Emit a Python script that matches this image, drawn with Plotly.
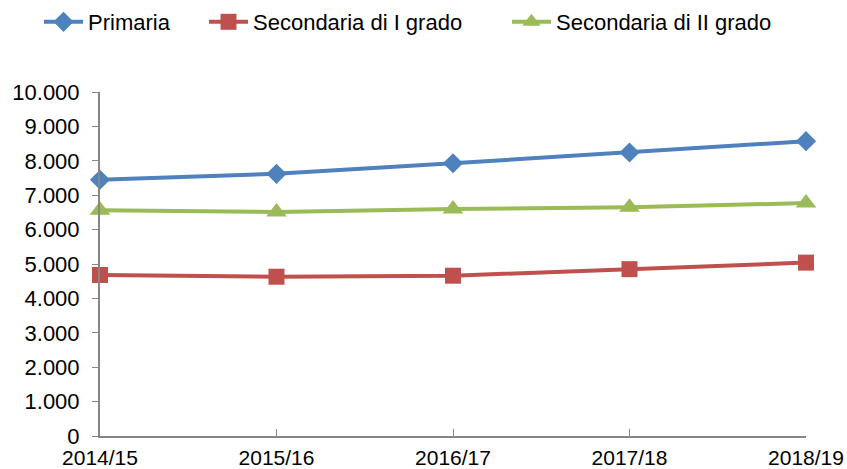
import plotly.graph_objects as go

categories = ["2014/15", "2015/16", "2016/17", "2017/18", "2018/19"]
primaria = [7450, 7620, 7930, 8240, 8570]
sec_1 = [4680, 4630, 4660, 4850, 5040]
sec_2 = [6560, 6510, 6600, 6650, 6770]
y_ticks = list(range(0, 10001, 1000))

series = [
    ("Primaria", primaria, "#4F81BD", "diamond", 15.5, "legend", 67),
    ("Secondaria di I grado", sec_1, "#C0504D", "square", 16, "legend2", 232),
    ("Secondaria di II grado", sec_2, "#9BBB59", "triangle-up", 18, "legend3", 535),
]

L, R, T, B = 100, 41, 92, 33
W, H = 847, 469
pw = W - L - R
ph = H - T - B

xs = list(range(len(categories)))
fig = go.Figure()
legends = {}
for name, vals, col, sym, size, lg, cx in series:
    fig.add_trace(go.Scatter(
        x=xs, y=vals, name=name, mode="lines+markers",
        line=dict(color=col, width=4),
        marker=dict(symbol=sym, size=size, color=col),
        cliponaxis=False, legend=lg,
    ))
    legends[lg] = dict(
        x=(cx - 15 - 13 - L) / pw, xanchor="left",
        y=1 + (T - 22) / ph, yanchor="middle",
        font=dict(size=22), bgcolor="rgba(0,0,0,0)", itemwidth=39,
    )

axis_col = "#868686"
fig.update_layout(
    width=W, height=H,
    margin=dict(l=L, r=R, t=T, b=B, autoexpand=False),
    paper_bgcolor="white", plot_bgcolor="white",
    separators=",.",
    font=dict(family="Liberation Sans, Arial, sans-serif", size=21, color="black"),
    showlegend=True,
    xaxis=dict(
        range=[0, len(categories) - 1], tickvals=xs, ticktext=categories,
        showline=True, linecolor=axis_col, linewidth=2,
        ticks="inside", ticklen=7, tickcolor=axis_col, tickwidth=1,
        showgrid=False, zeroline=False, ticklabelstandoff=2,
    ),
    yaxis=dict(
        range=[0, 10000], tickvals=y_ticks, tickformat=",d",
        showline=True, linecolor=axis_col, linewidth=2,
        ticks="outside", ticklen=6, tickcolor=axis_col, tickwidth=1,
        showgrid=False, zeroline=False, ticklabelstandoff=8,
        tickfont=dict(size=22),
    ),
    **legends,
)

fig.write_html(
    "out.html",
    config={"displayModeBar": False},
    post_script="document.body.style.margin='0';document.body.style.overflow='hidden';",
)
